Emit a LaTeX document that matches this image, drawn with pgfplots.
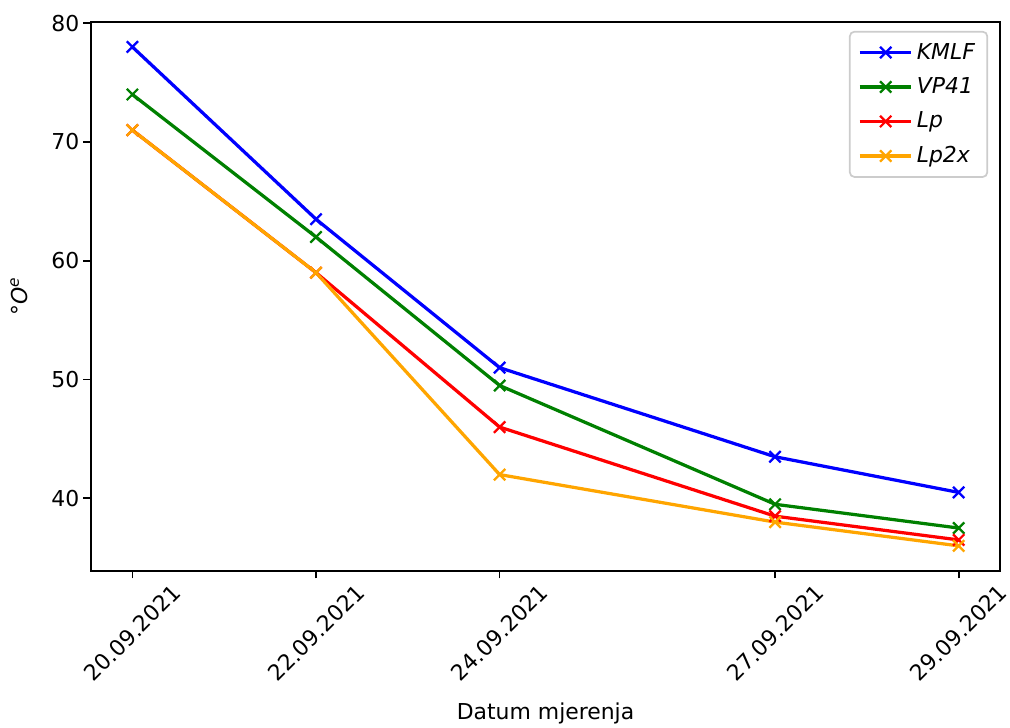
\documentclass[border=0pt]{standalone}
\usepackage{fontspec}
\setmainfont{DejaVu Sans}
\usepackage{pgfplots}
\pgfplotsset{compat=1.18}
\usepackage{graphicx}

\definecolor{mplblue}{RGB}{0,0,255}
\definecolor{mplgreen}{RGB}{0,128,0}
\definecolor{mplred}{RGB}{255,0,0}
\definecolor{mplorange}{RGB}{255,165,0}

\newcommand\mplfont{\fontsize{11.5pt}{13.8pt}\selectfont}

\begin{document}
\begin{tikzpicture}
\begin{axis}[
  scale only axis,
  width=477pt, height=288pt,
  xmin=19.55, xmax=29.45,
  ymin=33.9, ymax=80.1,
  xtick={20,22,24,27,29},
  xticklabels={\rotatebox{45}{20.09.2021},\rotatebox{45}{22.09.2021},\rotatebox{45}{24.09.2021},\rotatebox{45}{27.09.2021},\rotatebox{45}{29.09.2021}},
  xticklabel style={anchor=north, inner sep=2pt},
  yticklabel style={inner sep=2pt},
  ytick={40,50,60,70,80},
  /pgf/number format/assume math mode=true,
  tick label style={font=\mplfont},
  label style={font=\mplfont},
  tick align=outside,
  tick pos=left,
  major tick length=4pt,
  tick style={black, line width=0.9pt},
  axis line style={line width=0.9pt},
  xlabel={Datum mjerenja},
  ylabel={{\itshape °O}\textsuperscript{\itshape e}},
  xlabel style={yshift=-5pt},
  ylabel style={yshift=7pt},
  legend cell align=left,
  legend style={draw=black!20, rounded corners=2.5pt, line width=0.9pt, font=\mplfont\itshape, row sep=4.2pt, inner xsep=4.5pt, inner ysep=4pt, at={(0.987,0.984)}, anchor=north east},
  legend image code/.code={\draw[#1] (0pt,0pt) -- (27pt,0pt); \draw[#1,mark repeat=2,mark phase=2] plot coordinates {(0pt,0pt) (13.5pt,0pt) (27pt,0pt)};},
  every axis plot/.append style={line width=1.7pt, mark=x, mark size=4.2pt, mark options={solid, line width=1.2pt}},
]
\addplot[mplblue] coordinates {(20,78) (22,63.5) (24,51) (27,43.5) (29,40.5)};
\addlegendentry{KMLF}
\addplot[mplgreen] coordinates {(20,74) (22,62) (24,49.5) (27,39.5) (29,37.5)};
\addlegendentry{VP41}
\addplot[mplred] coordinates {(20,71) (22,59) (24,46) (27,38.5) (29,36.5)};
\addlegendentry{Lp}
\addplot[mplorange] coordinates {(20,71) (22,59) (24,42) (27,38) (29,36)};
\addlegendentry{Lp2x}
\end{axis}
\pgfresetboundingbox
\useasboundingbox ([xshift=-47.8pt,yshift=-82.4pt]current axis.south west) rectangle ([xshift=5.25pt,yshift=11.55pt]current axis.north east);
\end{tikzpicture}
\end{document}
